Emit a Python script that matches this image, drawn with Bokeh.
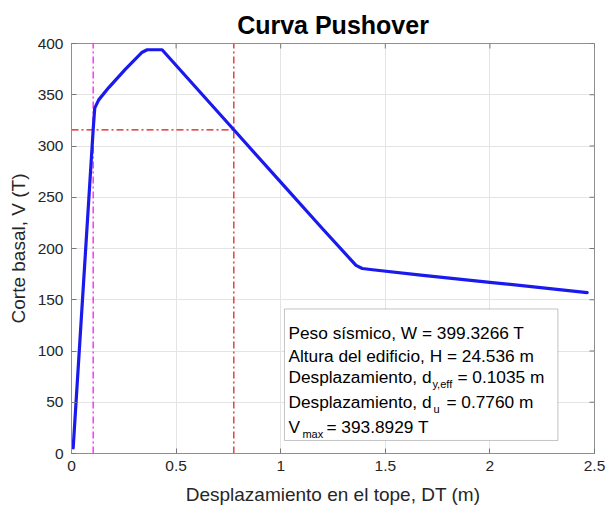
import math

from bokeh.plotting import figure
from bokeh.models import Label, BoxAnnotation, Range1d, FixedTicker
from bokeh.embed import file_html
from bokeh.resources import INLINE

# Pushover curve: top displacement (m) vs base shear (T)
disp = [0.008, 0.1035, 0.111, 0.13, 0.178, 0.258, 0.338, 0.362, 0.433,
        0.776, 1.0, 1.2, 1.36, 1.39, 1.45, 1.67, 2.0, 2.465]
shear = [5.5, 315.8, 337.0, 345.0, 357.0, 375.0, 391.5, 393.9, 393.9,
         315.8, 264.8, 219.3, 183.5, 180.5, 179.0, 174.0, 167.0, 157.0]

# Reference values of the idealised curve
d_y_eff = 0.1035
d_u = 0.7760
v_at_du = 315.8

x_ticks = [0, 0.5, 1, 1.5, 2, 2.5]
x_tick_labels = ["0", "0.5", "1", "1.5", "2", "2.5"]
y_ticks = [0, 50, 100, 150, 200, 250, 300, 350, 400]

info_lines = [
    "Peso sísmico, W = 399.3266 T",
    "Altura del edificio, H = 24.536 m",
]

FONT = "Liberation Sans"
TXT = "#262626"
AXIS_GREY = "#8f8f8f"

x0, x1 = 0, 2.5
y0, y1 = 0, 400

p = figure(width=606, height=508, output_backend="svg", toolbar_location=None,
           x_range=Range1d(x0, x1), y_range=Range1d(y0, y1),
           min_border_left=71, min_border_right=12,
           min_border_top=43, min_border_bottom=55,
           background_fill_color="white", border_fill_color="white")

p.title.text = "Curva Pushover"
p.title.align = "center"
p.title.text_font = FONT
p.title.text_font_size = "25px"
p.title.text_font_style = "bold"
p.title.text_color = "black"
p.title.offset = 0

# Grid
for g in (p.xgrid, p.ygrid):
    g.grid_line_color = "#e4e4e4"
    g.grid_line_width = 1
p.xgrid.ticker = FixedTicker(ticks=x_ticks)
p.ygrid.ticker = FixedTicker(ticks=y_ticks)

p.outline_line_color = AXIS_GREY
p.outline_line_width = 1


def style_axis(ax, ticks):
    ax.ticker = FixedTicker(ticks=ticks)
    ax.major_tick_in = 5
    ax.major_tick_out = 0
    ax.minor_tick_line_color = None
    ax.major_tick_line_color = "#777777"
    ax.axis_line_color = AXIS_GREY
    ax.major_label_text_font = FONT
    ax.major_label_text_color = TXT
    ax.major_label_text_font_size = "15.5px"
    ax.axis_label_text_font = FONT
    ax.axis_label_text_font_size = "19px"
    ax.axis_label_text_font_style = "normal"
    ax.axis_label_text_color = TXT


xa = p.xaxis[0]
style_axis(xa, x_ticks)
xa.major_label_overrides = {t: s for t, s in zip(x_ticks, x_tick_labels)}
xa.major_label_standoff = 7
xa.axis_label = "Desplazamiento en el tope, DT (m)"
xa.axis_label_standoff = 10

ya = p.yaxis[0]
style_axis(ya, y_ticks)
ya.major_label_standoff = 8
ya.axis_label = "Corte basal, V (T)"
ya.axis_label_standoff = 6

# Inward tick marks along the top and right edges of the box
p.scatter(x_ticks, [y1] * len(x_ticks), marker="dash", angle=math.pi / 2,
          size=10, line_color="#777777", line_width=1)
p.scatter([x1] * len(y_ticks), y_ticks, marker="dash",
          size=10, line_color="#777777", line_width=1)

# Reference lines
dashdot = "7 3 2 3"
p.line([d_y_eff, d_y_eff], [y0, y1], line_color="#ff00ff", line_width=1.2,
       line_dash=dashdot)
p.line([d_u, d_u], [y0, y1], line_color="#e01010", line_width=1.2,
       line_dash=dashdot)
p.line([x0, d_u], [v_at_du, v_at_du], line_color="#e01010", line_width=1.2,
       line_dash=dashdot)

# Capacity curve
p.line(disp, shear, line_color="#1a1aef", line_width=3.2,
       line_join="round", line_cap="round")

# Information box
p.add_layout(BoxAnnotation(left=1.018, right=2.325, bottom=12.7, top=141.0,
                           fill_color="white", fill_alpha=1.0,
                           line_color="#3a3a3a", line_width=1))

tx = 1.037
base_y = [118.0, 95.0, 74.6, 50.7, 26.3]
sub_dy = -6.8


def label(text, y, dx=0, size="17.3px"):
    p.add_layout(Label(x=tx, y=y, x_offset=dx, text=text, text_font=FONT,
                       text_font_size=size, text_color="black",
                       text_baseline="alphabetic", text_align="left"))


label(info_lines[0], base_y[0])
label(info_lines[1], base_y[1])
label("Desplazamiento, d", base_y[2])
label("y,eff", base_y[2] + sub_dy, dx=144, size="11px")
label("= 0.1035 m", base_y[2], dx=169)
label("Desplazamiento, d", base_y[3])
label("u", base_y[3] + sub_dy, dx=145, size="11px")
label("= 0.7760 m", base_y[3], dx=158)
label("V", base_y[4])
label("max", base_y[4] + sub_dy, dx=14, size="11px")
label("= 393.8929 T", base_y[4], dx=38)

open("out.html", "w").write(file_html(p, INLINE))
